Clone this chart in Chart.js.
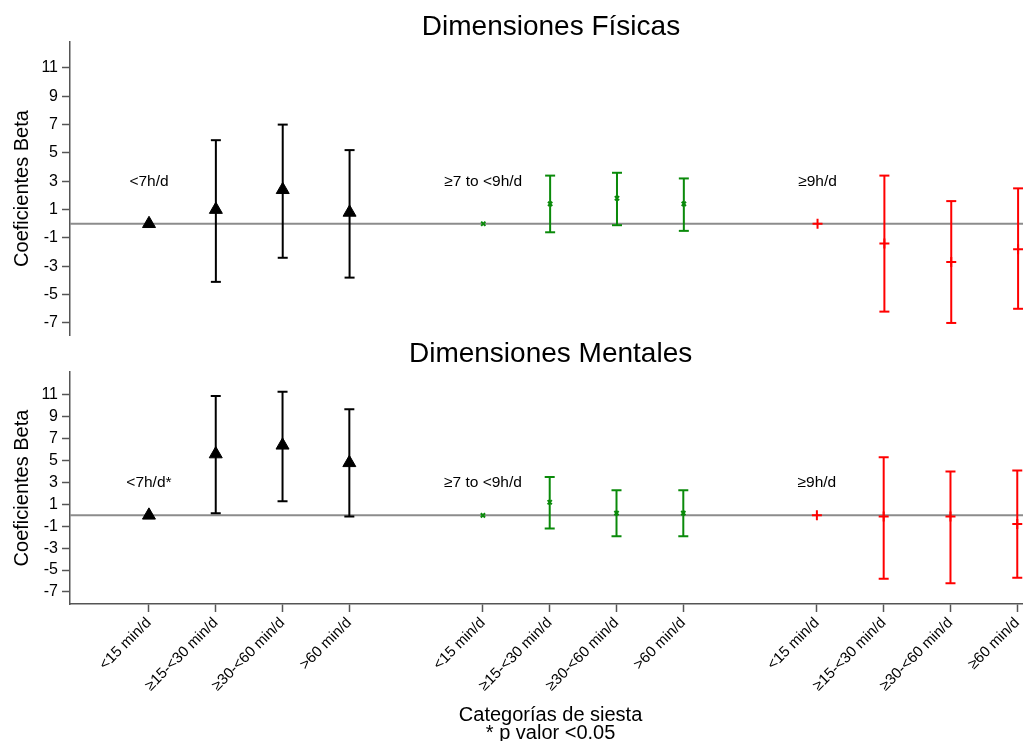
<!DOCTYPE html>
<html>
<head>
<meta charset="utf-8">
<script src="https://cdn.jsdelivr.net/npm/chart.js@4"></script>
<style>
  html, body { margin: 0; padding: 0; background: #fff; overflow: hidden; }
  #fisicas { position: absolute; left: 0; top: 0; }
  #mentales { position: absolute; left: 0; top: 337px; }
</style>
</head>
<body>
<canvas id="fisicas" width="1032" height="337"></canvas>
<canvas id="mentales" width="1032" height="404"></canvas>
<script>
// Nap categories, laid out in three blocks of four on a numeric axis
const xLabels = [
  '<15 min/d', '≥15-<30 min/d', '≥30-<60 min/d', '>60 min/d',
  '<15 min/d', '≥15-<30 min/d', '≥30-<60 min/d', '>60 min/d',
  '<15 min/d', '≥15-<30 min/d', '≥30-<60 min/d', '≥60 min/d'
];
const xPositions = [0, 1, 2, 3, 5, 6, 7, 8, 10, 11, 12, 13];
const yTicks = [-7, -5, -3, -1, 1, 3, 5, 7, 9, 11];
const xTitle = ['Categorías de siesta', '* p valor <0.05'];

// Night sleep groups
const groupStarts = [0, 5, 10];
const groupLabelsFisicas = ['<7h/d', '≥7 to <9h/d', '≥9h/d'];
const groupLabelsMentales = ['<7h/d*', '≥7 to <9h/d', '≥9h/d'];

// Dimensiones Físicas: beta and 95% CI
const fisShort = [0, 1.0, 2.4, 0.8];
const fisShortLow = [null, -4.1, -2.4, -3.8];
const fisShortHigh = [null, 5.9, 7.0, 5.2];
const fisNormal = [0, 1.4, 1.8, 1.4];
const fisNormalLow = [null, -0.6, -0.1, -0.5];
const fisNormalHigh = [null, 3.4, 3.6, 3.2];
const fisLong = [0, -1.4, -2.7, -1.8];
const fisLongLow = [null, -6.2, -7.0, -6.0];
const fisLongHigh = [null, 3.4, 1.6, 2.5];

// Dimensiones Mentales: beta and 95% CI
const menShort = [0, 5.6, 6.4, 4.8];
const menShortLow = [null, 0.2, 1.3, -0.1];
const menShortHigh = [null, 10.9, 11.3, 9.7];
const menNormal = [0, 1.2, 0.2, 0.2];
const menNormalLow = [null, -1.2, -1.9, -1.9];
const menNormalHigh = [null, 3.5, 2.3, 2.3];
const menLong = [0, -0.1, -0.1, -0.8];
const menLongLow = [null, -5.8, -6.2, -5.7];
const menLongHigh = [null, 5.3, 4.0, 4.1];

const FONT = '"Liberation Sans", Arial, Helvetica, sans-serif';
Chart.defaults.font.family = FONT;
Chart.defaults.color = '#000';

const X_MIN = -1.182, X_MAX = 13.208;
const LABEL_Y = 3;

const groupStyles = [
  { color: '#000000', pointStyle: 'triangle', radius: 7.5, fill: true },
  { color: '#0a8a0a', pointStyle: 'crossRot', radius: 3, fill: false },
  { color: '#ff0000', pointStyle: 'cross', radius: 5, fill: false }
];

function buildDatasets(groups) {
  const sets = [];
  groups.forEach((g, gi) => {
    const st = groupStyles[gi];
    const pos = xPositions.slice(gi * 4, gi * 4 + 4);
    // estimate markers
    sets.push({
      type: 'scatter',
      data: pos.map((x, i) => ({ x, y: g.est[i] })),
      pointStyle: st.pointStyle,
      pointRadius: st.radius,
      pointBorderWidth: st.fill ? 1 : 2,
      borderColor: st.color,
      backgroundColor: st.color
    });
    // caps at both ends of each interval
    const caps = [];
    pos.forEach((x, i) => {
      if (g.low[i] == null) return;
      caps.push({ x, y: g.low[i] }, { x, y: g.high[i] });
    });
    sets.push({
      type: 'scatter',
      data: caps,
      pointStyle: 'line',
      pointRadius: 5,
      pointBorderWidth: 2,
      borderColor: st.color,
      backgroundColor: st.color
    });
    // vertical whiskers, split by null points
    const whisk = [];
    pos.forEach((x, i) => {
      if (g.low[i] == null) return;
      whisk.push({ x, y: g.low[i] }, { x, y: g.high[i] }, { x, y: null });
    });
    sets.push({
      type: 'line',
      data: whisk,
      borderColor: st.color,
      borderWidth: 2,
      pointRadius: 0,
      spanGaps: false
    });
  });
  // reference line at zero, drawn underneath
  sets.push({
    type: 'line',
    data: [{ x: X_MIN, y: 0 }, { x: X_MAX, y: 0 }],
    borderColor: '#8c8c8c',
    borderWidth: 2,
    pointRadius: 0
  });
  return sets;
}

// panel title, sleep-group labels and (optionally) the x title lines
const panelText = {
  id: 'panelText',
  afterDraw(chart, args, opts) {
    const { ctx, chartArea, scales } = chart;
    const cx = (chartArea.left + chartArea.right) / 2;
    ctx.save();
    ctx.fillStyle = '#000';
    ctx.textAlign = 'center';
    ctx.textBaseline = 'alphabetic';
    ctx.font = '28px ' + FONT;
    ctx.fillText(opts.title, cx, opts.titleBase);
    if (opts.xTitle) {
      ctx.font = '20px ' + FONT;
      opts.xTitle.forEach((t, i) => ctx.fillText(t, cx, opts.xTitleBase + i * 17.5));
    }
    ctx.textBaseline = 'middle';
    ctx.font = '15.5px ' + FONT;
    opts.groups.forEach((g, i) => {
      ctx.fillText(g, scales.x.getPixelForValue(groupStarts[i]), scales.y.getPixelForValue(LABEL_Y));
    });
    ctx.restore();
  }
};

function yScale(min, max) {
  return {
    type: 'linear',
    min, max,
    afterBuildTicks: s => { s.ticks = yTicks.map(v => ({ value: v })); },
    afterFit: s => {
      s.width = 70;
      s.paddingTop = 0;
      s.paddingBottom = 0;
    },
    ticks: { font: { size: 16 }, color: '#000', padding: 4 },
    grid: { drawOnChartArea: false, drawTicks: true, tickLength: 8, tickColor: '#555', tickWidth: 1.5 },
    border: { color: '#555', width: 1.5 },
    title: { display: true, text: 'Coeficientes Beta', font: { size: 20 }, color: '#000', padding: { top: 10, bottom: 0 } }
  };
}

function makeChart(id, groups, opts) {
  return new Chart(document.getElementById(id), {
    type: 'scatter',
    data: { datasets: buildDatasets(groups) },
    plugins: [panelText],
    options: {
      responsive: false,
      animation: false,
      layout: { padding: opts.padding, autoPadding: false },
      plugins: {
        legend: { display: false },
        tooltip: { enabled: false },
        panelText: {
          title: opts.title, titleBase: opts.titleBase, groups: opts.groupLabels,
          xTitle: opts.xTitle, xTitleBase: opts.xTitleBase
        }
      },
      scales: {
        x: opts.x,
        y: yScale(opts.yMin, opts.yMax)
      }
    }
  });
}

makeChart('fisicas', [
  { est: fisShort, low: fisShortLow, high: fisShortHigh },
  { est: fisNormal, low: fisNormalLow, high: fisNormalHigh },
  { est: fisLong, low: fisLongLow, high: fisLongHigh }
], {
  title: 'Dimensiones Físicas',
  titleBase: 35,
  groupLabels: groupLabelsFisicas,
  padding: { top: 42, bottom: 2, left: 0, right: 0 },
  yMin: -7.85, yMax: 12.83,
  x: { type: 'linear', min: X_MIN, max: X_MAX, display: false }
});

makeChart('mentales', [
  { est: menShort, low: menShortLow, high: menShortHigh },
  { est: menNormal, low: menNormalLow, high: menNormalHigh },
  { est: menLong, low: menLongLow, high: menLongHigh }
], {
  title: 'Dimensiones Mentales',
  titleBase: 25,
  groupLabels: groupLabelsMentales,
  xTitle: xTitle,
  xTitleBase: 384,
  padding: { top: 35, bottom: 0, left: 0, right: 0 },
  yMin: -8.1, yMax: 13.1,
  x: {
    type: 'linear',
    min: X_MIN, max: X_MAX,
    afterBuildTicks: s => { s.ticks = xPositions.map(v => ({ value: v })); },
    afterFit: s => { s.height = 137; },
    ticks: {
      autoSkip: false, minRotation: 45, maxRotation: 45,
      font: { size: 15 }, color: '#000', padding: 2,
      callback: (v, i) => xLabels[i]
    },
    grid: { drawOnChartArea: false, drawTicks: true, tickLength: 8, tickColor: '#555', tickWidth: 1.5 },
    border: { color: '#555', width: 1.5 }
  }
});
</script>
</body>
</html>
